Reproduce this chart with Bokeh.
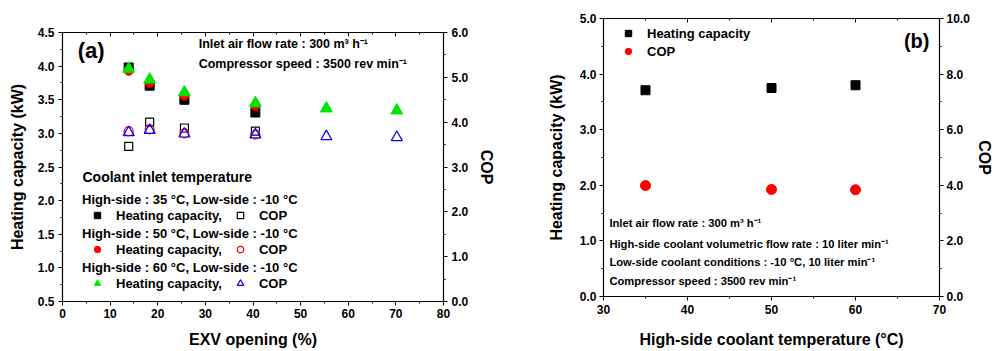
from bokeh.plotting import figure
from bokeh.models import (Range1d, LinearAxis, Legend, LegendItem, Label,
                          NumeralTickFormatter, SingleIntervalTicker,
                          CustomLabelingPolicy)
from bokeh.layouts import row, column
from bokeh.embed import file_html
from bokeh.resources import INLINE

# ---------------- data: panel (a) ----------------
exv_opening = [13.9, 18.3, 25.6, 40.5]
exv_opening_60 = [13.9, 18.3, 25.6, 40.5, 55.4, 70.2]
hc_35 = [3.98, 3.71, 3.50, 3.31]
cop_35 = [3.46, 4.00, 3.87, 3.80]
hc_50 = [3.93, 3.75, 3.56, 3.41]
cop_50 = [3.80, 3.84, 3.75, 3.72]
hc_60 = [3.96, 3.80, 3.61, 3.45, 3.37, 3.34]
cop_60 = [3.77, 3.82, 3.74, 3.72, 3.68, 3.66]

# ---------------- data: panel (b) ----------------
coolant_temp = [35, 50, 60]
hc_b = [3.71, 3.75, 3.80]
cop_b = [3.99, 3.85, 3.84]

FONT = "Liberation Sans"


def style_axis(ax, label_size="16px", tick_size="12px", inward=False,
               label_standoff=3, axis_standoff=8):
    ax.axis_line_color = "black"
    ax.axis_line_width = 1.2
    ax.major_tick_line_color = "black"
    ax.minor_tick_line_color = "black"
    if inward:
        ax.major_tick_in, ax.major_tick_out = 4, 0
        ax.minor_tick_in, ax.minor_tick_out = 2, 0
    else:
        ax.major_tick_in, ax.major_tick_out = 0, 4
        ax.minor_tick_in, ax.minor_tick_out = 0, 2
    ax.major_label_text_font = FONT
    ax.major_label_text_font_style = "bold"
    ax.major_label_text_font_size = tick_size
    ax.major_label_text_color = "black"
    ax.major_label_standoff = label_standoff
    ax.axis_label_text_font = FONT
    ax.axis_label_text_font_style = "bold"
    ax.axis_label_text_font_size = label_size
    ax.axis_label_text_color = "black"
    ax.axis_label_standoff = axis_standoff


def top_axis(interval):
    ax = LinearAxis(ticker=SingleIntervalTicker(interval=interval, num_minor_ticks=2),
                    major_label_policy=CustomLabelingPolicy(
                        code="for (const i of indices) { indices.unset(i) }\nreturn indices"))
    style_axis(ax, inward=True, label_standoff=0, axis_standoff=0)
    return ax


def base_fig(width, height, xr, yr, borders):
    p = figure(width=width, height=height, x_range=xr, y_range=yr,
               output_backend="svg", toolbar_location=None,
               min_border_left=borders[0], min_border_right=borders[1],
               min_border_top=borders[2], min_border_bottom=borders[3])
    p.xgrid.visible = False
    p.ygrid.visible = False
    p.outline_line_color = "black"
    p.background_fill_color = "white"
    p.border_fill_color = "white"
    return p


def text_label(p, x, y, text, size, align="left"):
    p.add_layout(Label(x=x, y=y, text=text, text_font=FONT, text_font_style="bold",
                       text_font_size=size, text_color="black", text_align=align,
                       text_baseline="middle"))


# =============== panel (a) ===============
pa = base_fig(500, 351, Range1d(0, 80), Range1d(0.5, 4.5), (62, 57, 32, 50))
pa.extra_y_ranges = {"cop": Range1d(0, 6)}

pa.xaxis.ticker = SingleIntervalTicker(interval=10, num_minor_ticks=2)
pa.yaxis.ticker = SingleIntervalTicker(interval=0.5, num_minor_ticks=2)
pa.yaxis.formatter = NumeralTickFormatter(format="0.0")
pa.xaxis.axis_label = "EXV opening (%)"
pa.yaxis.axis_label = "Heating capacity (kW)"
style_axis(pa.xaxis[0], label_standoff=3, axis_standoff=10)
style_axis(pa.yaxis[0], label_standoff=4, axis_standoff=9)

ra = LinearAxis(y_range_name="cop", axis_label="COP",
                ticker=SingleIntervalTicker(interval=1, num_minor_ticks=2),
                formatter=NumeralTickFormatter(format="0.0"))
style_axis(ra, label_standoff=4, axis_standoff=7)
pa.add_layout(ra, "right")
pa.add_layout(top_axis(10), "above")

# COP (open) markers
r_c35 = pa.scatter(exv_opening, cop_35, y_range_name="cop", marker="square", size=8,
                   fill_color=None, line_color="black", line_width=1.2)
r_c50 = pa.scatter(exv_opening, cop_50, y_range_name="cop", marker="circle", size=9,
                   fill_color=None, line_color="red", line_width=1.2)
r_c60 = pa.scatter(exv_opening_60, cop_60, y_range_name="cop", marker="triangle", size=11,
                   fill_color=None, line_color="blue", line_width=1.2)
# Heating capacity (filled) markers
r_h35 = pa.scatter(exv_opening, hc_35, marker="square", size=9,
                   fill_color="black", line_color="black")
r_h50 = pa.scatter(exv_opening, hc_50, marker="circle", size=9,
                   fill_color="red", line_color="red")
r_h60 = pa.scatter(exv_opening_60, hc_60, marker="triangle", size=12,
                   fill_color="#00e600", line_color="#00e600")

text_label(pa, 3.2, 4.23, "(a)", "22px")
text_label(pa, 28.6, 4.336, "Inlet air flow rate : 300 m\u00b3 h\u207b\u00b9", "12.5px")
text_label(pa, 28.6, 4.039, "Compressor speed : 3500 rev min\u207b\u00b9", "12.5px")
text_label(pa, 4.2, 2.344, "Coolant inlet temperature", "14px")

legend_specs = [
    ("High-side : 35 \u00b0C, Low-side : -10 \u00b0C", r_h35, r_c35, 78),
    ("High-side : 50 \u00b0C, Low-side : -10 \u00b0C", r_h50, r_c50, 44),
    ("High-side : 60 \u00b0C, Low-side : -10 \u00b0C", r_h60, r_c60, 10),
]
for title, rh, rc, vy in legend_specs:
    lg = Legend(items=[LegendItem(label="Heating capacity,", renderers=[rh]),
                       LegendItem(label="COP", renderers=[rc])],
                orientation="horizontal", location=(20, vy), title=title,
                title_text_font=FONT, title_text_font_style="bold",
                title_text_font_size="13px", title_text_color="black",
                title_standoff=0,
                label_text_font=FONT, label_text_font_style="bold",
                label_text_font_size="13px", label_text_color="black",
                glyph_width=30, glyph_height=16, label_height=16, label_width=10,
                label_standoff=4, spacing=3, padding=0, margin=0,
                border_line_color=None, background_fill_alpha=0)
    pa.add_layout(lg)

# =============== panel (b) ===============
pb = base_fig(495, 351, Range1d(30, 70), Range1d(0, 5), (103, 50, 18, 55))
pb.extra_y_ranges = {"cop": Range1d(0, 10)}
pb.xaxis.ticker = SingleIntervalTicker(interval=10, num_minor_ticks=2)
pb.yaxis.ticker = SingleIntervalTicker(interval=1, num_minor_ticks=2)
pb.yaxis.formatter = NumeralTickFormatter(format="0.0")
pb.xaxis.axis_label = "High-side coolant temperature (\u00b0C)"
pb.yaxis.axis_label = "Heating capacity (kW)"
style_axis(pb.xaxis[0], label_standoff=4, axis_standoff=14)
style_axis(pb.yaxis[0], label_standoff=3, axis_standoff=12)

rb = LinearAxis(y_range_name="cop", axis_label="COP",
                ticker=SingleIntervalTicker(interval=2, num_minor_ticks=2),
                formatter=NumeralTickFormatter(format="0.0"))
style_axis(rb, label_standoff=3, axis_standoff=3)
pb.add_layout(rb, "right")
pb.add_layout(top_axis(10), "above")

rb_hc = pb.scatter(coolant_temp, hc_b, marker="square", size=9,
                   fill_color="black", line_color="black")
rb_cop = pb.scatter(coolant_temp, cop_b, y_range_name="cop", marker="circle", size=10,
                    fill_color="red", line_color="red")

text_label(pb, 68.8, 4.60, "(b)", "20px", align="right")
info_lines = [
    "Inlet air flow rate : 300 m\u00b3 h\u207b\u00b9",
    "High-side coolant volumetric flow rate : 10 liter min\u207b\u00b9",
    "Low-side coolant conditions : -10 \u00b0C, 10 liter min\u207b\u00b9",
    "Compressor speed : 3500 rev min\u207b\u00b9",
]
for txt, yy in zip(info_lines, [1.313, 0.953, 0.612, 0.270]):
    text_label(pb, 30.7, yy, txt, "11.2px")

lgb = Legend(items=[LegendItem(label="Heating capacity", renderers=[rb_hc]),
                    LegendItem(label="COP", renderers=[rb_cop])],
             orientation="vertical", location=(17, 237),
             label_text_font=FONT, label_text_font_style="bold",
             label_text_font_size="13px", label_text_color="black",
             glyph_width=16, glyph_height=16, label_height=16,
             label_standoff=11, spacing=2, padding=0, margin=0,
             border_line_color=None, background_fill_alpha=0)
pb.add_layout(lgb)

layout = row(column(pa), column(pb))
open("out.html", "w").write(file_html(layout, INLINE))
